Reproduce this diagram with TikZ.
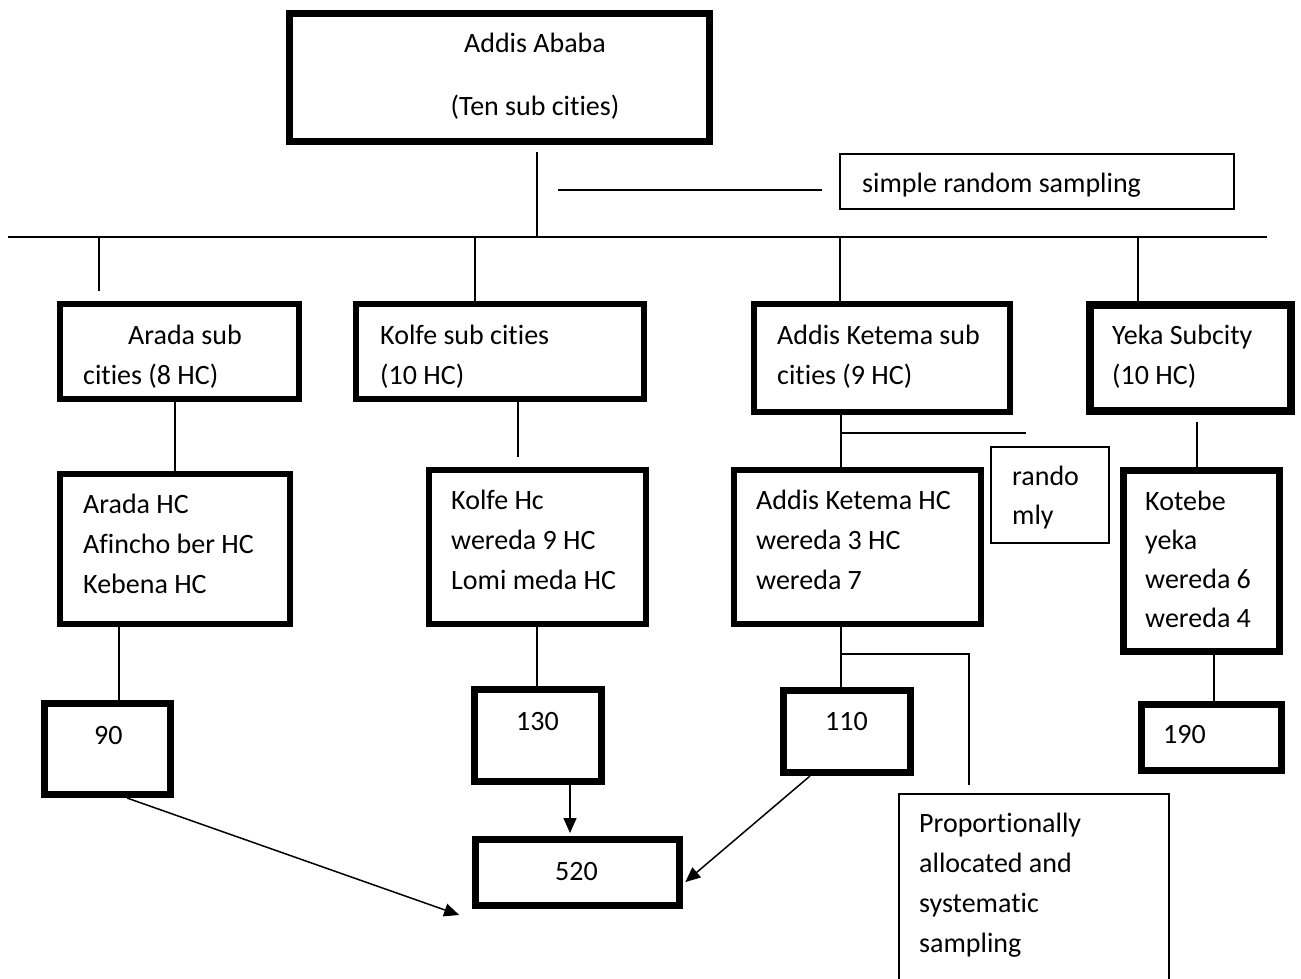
\documentclass[tikz,border=0pt]{standalone}
\usepackage{fontspec}
\setmainfont{Carlito}[Ligatures={NoCommon}]
\usetikzlibrary{arrows.meta}
\begin{document}
\begin{tikzpicture}[x=1pt,y=-1pt,
  box/.style={draw, line width=6.5pt, inner sep=0pt, rectangle},
  thinbox/.style={draw, line width=1.5pt, inner sep=0pt, rectangle},
  txt/.style={anchor=base west, inner sep=0pt, align=left, font=\fontsize{28}{40}\selectfont},
  ctxt/.style={anchor=base, inner sep=0pt, font=\fontsize{28}{40}\selectfont},
  ln/.style={line width=1.5pt},
  arr/.style={line width=1.5pt, shorten >=3pt, -{Triangle[length=15pt,width=13pt]}}]
\clip (0,0) rectangle (1301,979);
\fill[white] (0,0) rectangle (1301,979);

% boxes
\node[box, line width=7pt, minimum width=420pt, minimum height=128pt] (top) at (499.5,77.5) {};
\node[thinbox, minimum width=394pt, minimum height=55pt] (srs) at (1037,181.5) {};
\node[box, minimum width=239pt, minimum height=95pt] (arada) at (179.5,351.5) {};
\node[box, minimum width=288pt, minimum height=95pt] (kolfe) at (500,351.5) {};
\node[box, minimum width=256pt, minimum height=108pt] (aksub) at (882,358) {};
\node[box, line width=8pt, minimum width=201pt, minimum height=106pt] (yeka) at (1190.5,358) {};
\node[box, minimum width=230pt, minimum height=150pt] (aradahc) at (175,549) {};
\node[box, minimum width=217pt, minimum height=154pt] (kolfehc) at (537.5,547) {};
\node[thinbox, minimum width=118pt, minimum height=96pt] (rando) at (1050,495) {};
\node[box, minimum width=247pt, minimum height=154pt] (akhc) at (857.5,547) {};
\node[box, line width=7pt, minimum width=156pt, minimum height=181pt] (kotebe) at (1201.5,561) {};
\node[box, line width=7pt, minimum width=126pt, minimum height=91pt] (n90) at (107.5,749) {};
\node[box, line width=7pt, minimum width=127pt, minimum height=92pt] (n130) at (538,735.5) {};
\node[box, line width=7pt, minimum width=127pt, minimum height=82pt] (n110) at (847,731.5) {};
\node[thinbox, minimum width=270pt, minimum height=206pt] (prop) at (1034,897) {};
\node[box, line width=7pt, minimum width=140pt, minimum height=66pt] (n190) at (1211.5,737.5) {};
\node[box, line width=7pt, minimum width=204pt, minimum height=66pt] (n520) at (577.5,872.5) {};

% texts (multi-line nodes: base = baseline of last line)
\node[ctxt] (ttop1) at (535,53) {Addis Ababa};
\node[ctxt] (ttop2) at (535,116) {(Ten sub cities)};
\node[txt] (tsrs) at (862,192) {simple random sampling};
\node[txt] (tarada) at (83,384) {\hspace*{45pt}Arada sub\\cities (8 HC)};
\node[txt] (tkolfe) at (380,384) {Kolfe sub cities\\(10 HC)};
\node[txt] (taksub) at (777,384) {Addis Ketema sub\\cities (9 HC)};
\node[txt] (tyeka) at (1112,384) {Yeka Subcity\\(10 HC)};
\node[txt] (taradahc) at (83,593) {Arada HC\\Afincho ber HC\\Kebena HC};
\node[txt] (tkolfehc) at (451,589) {Kolfe Hc\\wereda 9 HC\\Lomi meda HC};
\node[txt, font=\fontsize{28}{39}\selectfont] (trando) at (1012,524) {rando\\mly};
\node[txt] (takhc) at (756,589) {Addis Ketema HC\\wereda 3 HC\\wereda 7};
\node[txt, font=\fontsize{28}{39}\selectfont] (tkotebe) at (1145,627) {Kotebe\\yeka\\wereda 6\\wereda 4};
\node[txt] (t90) at (94,744) {90};
\node[txt] (t130) at (516,730) {130};
\node[txt] (t110) at (825,730) {110};
\node[txt] (t190) at (1163,743) {190};
\node[txt] (t520) at (555,880) {520};
\node[txt] (tprop) at (919,952) {Proportionally\\allocated and\\systematic\\sampling};

% free coordinates
\coordinate (c1) at (537,152);
\coordinate (hl) at (8,237);
\coordinate (hr) at (1267,237);
\coordinate (s1) at (558,190);
\coordinate (s2) at (822,190);
\coordinate (d1) at (99,291);
\coordinate (k1) at (518,457);
\coordinate (ak1) at (1026,433);
\coordinate (y1) at (1197,422);
\coordinate (ak2) at (969,654);
\coordinate (ak3) at (969,785);
\coordinate (tip90) at (462,916);

% connectors
\draw[ln] (c1) -- (c1 |- hl);
\draw[ln] (hl) -- (hr);
\draw[ln] (s1) -- (s2);
\draw[ln] (d1 |- hl) -- (d1);
\draw[ln] (475,0 |- hl) -- (475,0 |- kolfe.north);
\draw[ln] (840,0 |- hl) -- (840,0 |- aksub.north);
\draw[ln] (1138,0 |- hl) -- (1138,0 |- yeka.north);
\draw[ln] (175,0 |- arada.south) -- (175,0 |- aradahc.north);
\draw[ln] (k1 |- kolfe.south) -- (k1);
\draw[ln] (841,0 |- aksub.south) -- (841,0 |- akhc.north);
\draw[ln] (841,0 |- ak1) -- (ak1);
\draw[ln] (y1) -- (y1 |- kotebe.north);
\draw[ln] (119,0 |- aradahc.south) -- (119,0 |- n90.north);
\draw[ln] (537,0 |- kolfehc.south) -- (537,0 |- n130.north);
\draw[ln] (841,0 |- akhc.south) -- (841,0 |- n110.north);
\draw[ln] (841,0 |- ak2) -- (ak2) -- (ak3);
\draw[ln] (1214,0 |- kotebe.south) -- (1214,0 |- n190.north);
\draw[arr] (127,0 |- n90.south) -- (tip90);
\draw[arr] (570,0 |- n130.south) -- (570,0 |- n520.north);
\draw[arr] (810,0 |- n110.south) -- (n520.east |- 0,884);
\end{tikzpicture}
\end{document}
